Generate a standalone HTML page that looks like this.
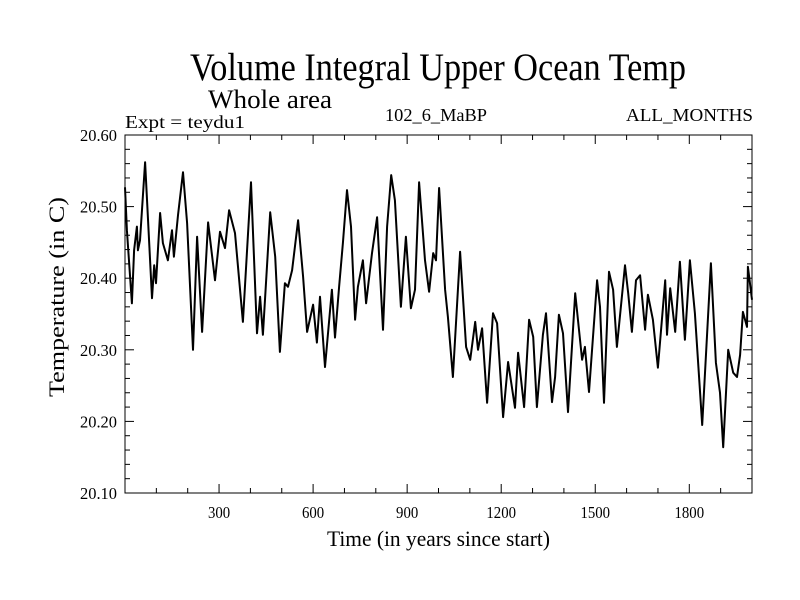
<!DOCTYPE html>
<html><head><meta charset="utf-8"><style>
html,body{margin:0;padding:0;background:#fff;}
svg{display:block;font-family:"Liberation Serif",serif;}
</style></head><body>
<svg id="chart" width="800" height="600" viewBox="0 0 800 600" xmlns="http://www.w3.org/2000/svg">
<text x="190" y="80" font-size="39" textLength="496" lengthAdjust="spacingAndGlyphs">Volume Integral Upper Ocean Temp</text>
<text x="208" y="108" font-size="26" textLength="124" lengthAdjust="spacingAndGlyphs">Whole area</text>
<text x="125" y="128" font-size="18" textLength="120" lengthAdjust="spacingAndGlyphs">Expt = teydu1</text>
<text x="385" y="121" font-size="18" textLength="102" lengthAdjust="spacingAndGlyphs">102_6_MaBP</text>
<text x="626" y="121" font-size="18" textLength="127" lengthAdjust="spacingAndGlyphs">ALL_MONTHS</text>
<text transform="translate(64,397) rotate(-90)" font-size="22" textLength="200" lengthAdjust="spacingAndGlyphs">Temperature (in C)</text>
<text x="327" y="546" font-size="22" textLength="223" lengthAdjust="spacingAndGlyphs">Time (in years since start)</text>
<g id="axes"></g>
<path id="series" fill="none" stroke="#000" stroke-width="2" stroke-linejoin="round"/>
<rect x="125" y="135" width="627" height="358" fill="none" stroke="#000" stroke-width="1"/>
</svg>
<script>
const years=[0,6,22,29,38,41,48,64,86,93,99,112,121,137,150,156,169,185,198,217,230,246,265,287,303,319,332,351,376,402,421,431,440,463,479,494,510,520,533,552,568,581,600,612,622,638,660,670,683,695,708,721,734,743,759,769,788,804,823,836,849,861,880,896,912,925,938,957,970,983,992,1002,1021,1030,1046,1069,1088,1101,1117,1126,1139,1155,1174,1187,1206,1222,1244,1254,1273,1289,1302,1314,1333,1343,1362,1372,1384,1397,1413,1436,1458,1467,1480,1506,1515,1528,1544,1557,1569,1595,1605,1617,1630,1643,1659,1668,1684,1700,1723,1729,1739,1755,1770,1786,1802,1818,1841,1869,1885,1898,1908,1924,1940,1952,1962,1971,1984,1987,2000];
const temps=[20.527,20.467,20.365,20.439,20.472,20.439,20.453,20.562,20.372,20.418,20.393,20.491,20.449,20.425,20.467,20.430,20.488,20.548,20.477,20.300,20.458,20.325,20.478,20.397,20.465,20.442,20.495,20.463,20.339,20.534,20.323,20.374,20.321,20.492,20.430,20.297,20.393,20.388,20.411,20.481,20.402,20.325,20.363,20.310,20.374,20.276,20.384,20.317,20.388,20.449,20.523,20.472,20.342,20.388,20.425,20.365,20.435,20.485,20.328,20.472,20.544,20.509,20.360,20.458,20.358,20.384,20.534,20.425,20.381,20.435,20.425,20.526,20.384,20.346,20.262,20.437,20.304,20.286,20.339,20.300,20.330,20.226,20.351,20.337,20.206,20.283,20.219,20.296,20.220,20.342,20.318,20.220,20.321,20.351,20.227,20.262,20.349,20.323,20.213,20.379,20.286,20.304,20.241,20.397,20.360,20.226,20.409,20.384,20.304,20.418,20.379,20.325,20.397,20.404,20.328,20.377,20.342,20.275,20.397,20.321,20.386,20.325,20.423,20.314,20.425,20.351,20.195,20.421,20.282,20.240,20.164,20.300,20.268,20.262,20.293,20.353,20.332,20.416,20.370];
const yTicks=[20.10,20.20,20.30,20.40,20.50,20.60];
const yTickLabels=["20.10","20.20","20.30","20.40","20.50","20.60"];
const xTicks=[300,600,900,1200,1500,1800];
const xTickLabels=["300","600","900","1200","1500","1800"];
const X0=125,X1=752,Y0=493,Y1=135,XMIN=0,XMAX=2000,YMIN=20.1,YMAX=20.6;
function sx(v){return X0+(v-XMIN)/(XMAX-XMIN)*(X1-X0);}
function sy(v){return Y0-(v-YMIN)/(YMAX-YMIN)*(Y0-Y1);}
const NS="http://www.w3.org/2000/svg";
const axes=document.getElementById('axes');
function line(x1,y1,x2,y2,name){const l=document.createElementNS(NS,'line');
l.setAttribute('x1',x1);l.setAttribute('y1',y1);l.setAttribute('x2',x2);l.setAttribute('y2',y2);
l.setAttribute('stroke','#000');l.setAttribute('stroke-width','1');


axes.appendChild(l);}
function text(x,y,s,anchor,name){const t=document.createElementNS(NS,'text');
t.setAttribute('x',x);t.setAttribute('y',y);t.setAttribute('font-size','17');t.setAttribute('text-anchor',anchor);
t.setAttribute('textLength',(s.length*7.4).toFixed(1));t.setAttribute('lengthAdjust','spacingAndGlyphs');t.textContent=s;


axes.appendChild(t);}
for(let v=YMIN;v<=YMAX+1e-9;v+=0.02){const y=sy(v);const major=Math.abs(Math.round(v*10)-v*10)<1e-6;const L=major?9:5;
line(X0,y,X0+L,y,'y-tick');line(X1,y,X1-L,y,'y-tick-right');}
yTicks.forEach((v,i)=>text(X0-8,sy(v)+6,yTickLabels[i],'end','y-tick-label'));
for(let v=100;v<XMAX;v+=100){const x=sx(v);const major=v%300===0;const L=major?9:5;
line(x,Y0,x,Y0-L,'x-tick');line(x,Y1,x,Y1+L,'x-tick-top');}
xTicks.forEach((v,i)=>text(sx(v),Y0+25,xTickLabels[i],'middle','x-tick-label'));
let d='';years.forEach((yr,i)=>{d+=(i?'L':'M')+sx(yr).toFixed(1)+' '+sy(temps[i]).toFixed(1);});
document.getElementById('series').setAttribute('d',d);
</script>
</body></html>
